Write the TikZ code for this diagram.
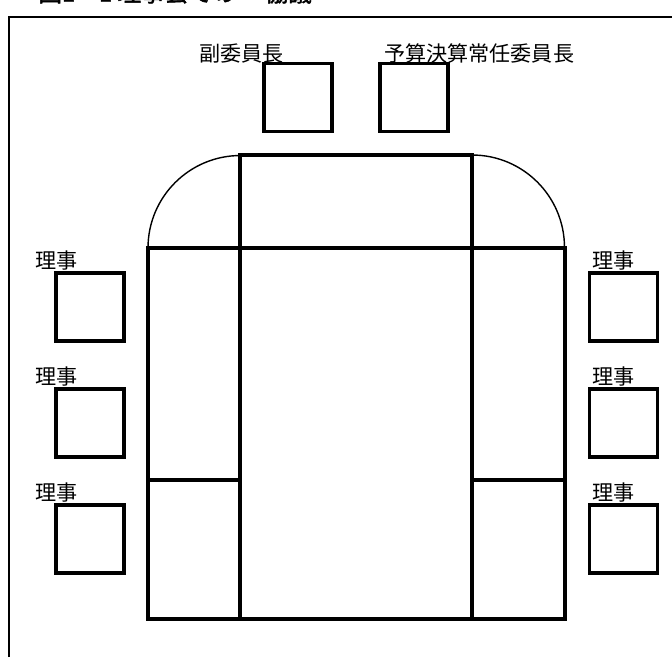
\documentclass[tikz,border=0pt]{standalone}
\usepackage{fontspec}
\usepackage{tikz}
\usetikzlibrary{positioning}
\newfontfamily\jpfont{Noto Sans CJK JP}
\newfontfamily\jptitle[FakeBold=2]{Noto Sans CJK JP}

\begin{document}
\begin{tikzpicture}[x=0.02cm, y=0.02cm,
      frame/.style={line width=1.3pt, draw=black},
      desk/.style={line width=2pt, draw=black},
      deskArc/.style={line width=0.8pt, draw=black},
      seat/.style={rectangle, draw=black, line width=1.8pt, minimum size=1.36cm, inner sep=0pt},
      seatLabel/.style={anchor=base west, inner sep=0pt, font=\jpfont\fontsize{12}{14}\selectfont},
      title/.style={anchor=base west, inner sep=0pt, font=\jptitle\fontsize{13.5}{15}\selectfont}
    ]
      \useasboundingbox (0,0) rectangle (672,-657);
      \node[title] (title) at (38,-1.5) {図1－1\ 理事会での\hspace{1.2em}協議};
      \draw[frame] (9,-657) -- (9,-17) -- (672,-17);
      % desk
      \draw[desk] (240,-155) rectangle (472,-619);
      \draw[desk] (148,-248) rectangle (240,-619);
      \draw[desk] (472,-248) rectangle (565,-619);
      \draw[desk] (240,-248) -- (472,-248);
      \draw[desk] (148,-480) -- (240,-480);
      \draw[desk] (472,-480) -- (565,-480);
      \draw[deskArc] (148,-248) arc[start angle=180, end angle=90, radius=1.85cm];
      \draw[deskArc] (472,-155) arc[start angle=90, end angle=0, radius=1.85cm];
      % seats
      \node[seat] (vice) at (298,-97.5) {};
      \node[seat] (budget) at (414,-97.5) {};
      \node[seat] (dirL1) at (90,-307) {};
      \node[seat] (dirL2) at (90,-423) {};
      \node[seat] (dirL3) at (90,-539) {};
      \node[seat] (dirR1) at (623.5,-307) {};
      \node[seat] (dirR2) at (623.5,-423) {};
      \node[seat] (dirR3) at (623.5,-539) {};
      \node[seatLabel] (viceLabel) at (199,-61) {副委員長};
      \node[seatLabel] (budgetLabel) at (384,-61) {予算決算常任委員長};
      \node[seatLabel] (dirL1Label) at (35,-268) {理事};
      \node[seatLabel] (dirL2Label) at (35,-384) {理事};
      \node[seatLabel] (dirL3Label) at (35,-500) {理事};
      \node[seatLabel] (dirR1Label) at (592,-268) {理事};
      \node[seatLabel] (dirR2Label) at (592,-384) {理事};
      \node[seatLabel] (dirR3Label) at (592,-500) {理事};
    \end{tikzpicture}
\end{document}
